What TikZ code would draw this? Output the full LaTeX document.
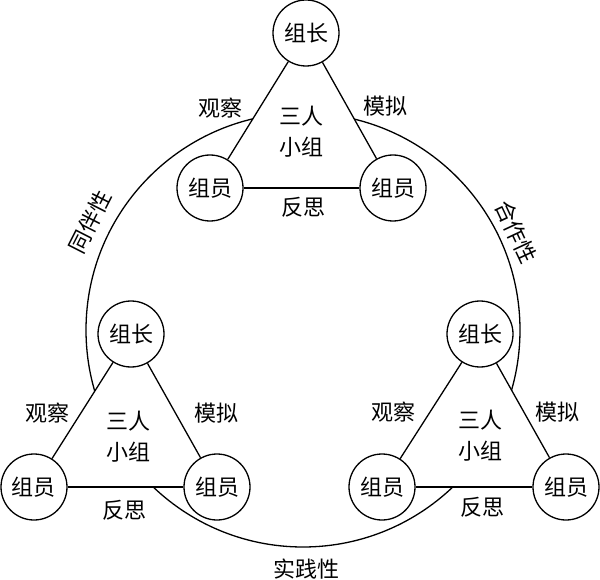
\documentclass[tikz,border=0pt]{standalone}
\usepackage{fontspec}
\newfontfamily\cjk{Noto Sans CJK SC}
\begin{document}
\begin{tikzpicture}[x=1pt,y=-1pt,
  member/.style={circle,draw,fill=white,line width=1.3pt,minimum size=66pt,inner sep=0pt,font=\cjk\fontsize{22}{26}\selectfont},
  lbl/.style={font=\cjk\fontsize{22}{31}\selectfont,inner sep=0pt,align=center},
  edge/.style={line width=1.3pt},
  hide/.style={fill=white}]
\useasboundingbox (0,0) rectangle (600,580);
% ring
\coordinate (ring) at (303,330);
\draw[edge] (ring) circle[radius=217pt];
% positions
\coordinate (L1) at (306,33);  \coordinate (A1) at (210,188); \coordinate (B1) at (393,188);
\coordinate (L2) at (131,334); \coordinate (A2) at (34,487);  \coordinate (B2) at (217,487);
\coordinate (L3) at (480,334); \coordinate (A3) at (382,487); \coordinate (B3) at (566,487);
% hide ring inside triangles
\fill[hide] (L1) -- (A1) -- (B1) -- cycle;
\fill[hide] (L2) -- (A2) -- (B2) -- cycle;
\fill[hide] (L3) -- (A3) -- (B3) -- cycle;
% nodes
\node[member] (nL1) at (L1) {组长};
\node[member] (nA1) at (A1) {组员};
\node[member] (nB1) at (B1) {组员};
\node[member] (nL2) at (L2) {组长};
\node[member] (nA2) at (A2) {组员};
\node[member] (nB2) at (B2) {组员};
\node[member] (nL3) at (L3) {组长};
\node[member] (nA3) at (A3) {组员};
\node[member] (nB3) at (B3) {组员};
% edges
\draw[edge] (nL1) -- (nA1);
\draw[edge] (nL1) -- (nB1);
\draw[edge] (nA1) -- (nB1);
\draw[edge] (nL2) -- (nA2);
\draw[edge] (nL2) -- (nB2);
\draw[edge] (nA2) -- (nB2);
\draw[edge] (nL3) -- (nA3);
\draw[edge] (nL3) -- (nB3);
\draw[edge] (nA3) -- (nB3);
% labels top
\node[lbl] (o1) at (220,108) {观察};
\node[lbl] (m1) at (385,106) {模拟};
\node[lbl] (g1) at (301,132) {三人\\小组};
\node[lbl] (f1) at (303,207) {反思};
% labels bottom-left
\node[lbl] (o2) at (47,413) {观察};
\node[lbl] (m2) at (216,413) {模拟};
\node[lbl] (g2) at (128,437) {三人\\小组};
\node[lbl] (f2) at (124,510) {反思};
% labels bottom-right
\node[lbl] (o3) at (393,412) {观察};
\node[lbl] (m3) at (557,412) {模拟};
\node[lbl] (g3) at (480,436) {三人\\小组};
\node[lbl] (f3) at (482,507) {反思};
% ring labels
\node[lbl,rotate=63] (t1) at (90,222) {同伴性};
\node[lbl,rotate=-65] (t2) at (516,232) {合作性};
\node[lbl] (t3) at (306,569) {实践性};
\end{tikzpicture}
\end{document}
